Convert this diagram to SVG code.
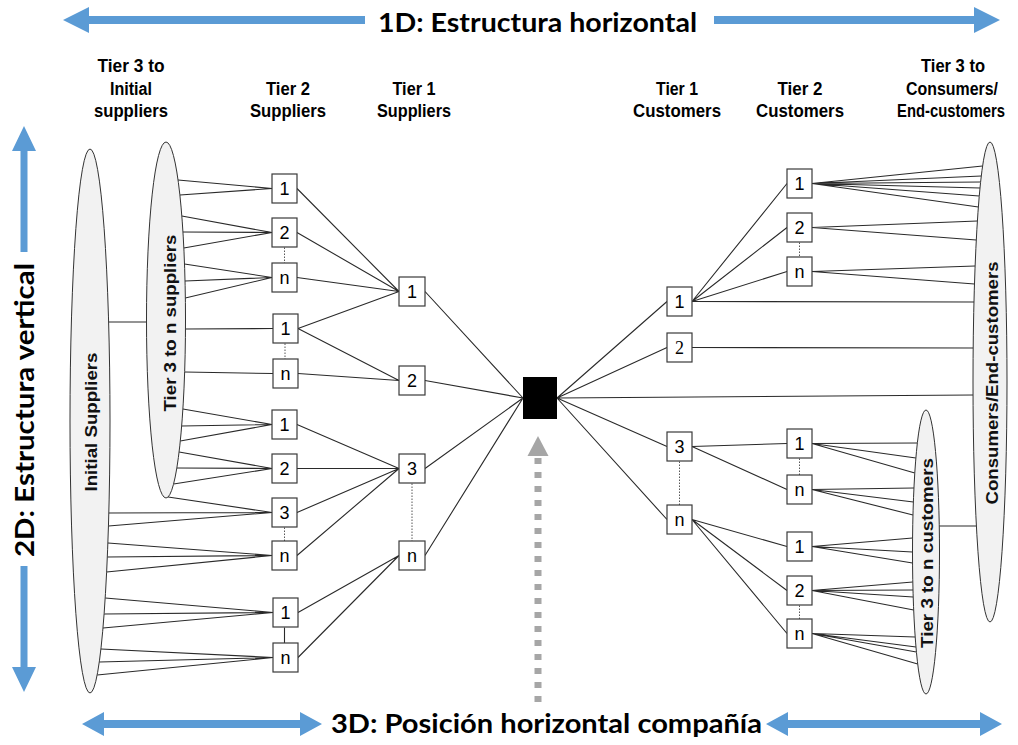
<svg xmlns="http://www.w3.org/2000/svg" width="1018" height="745" viewBox="0 0 1018 745">
<style>
.bx{fill:#fff;stroke:#3a3a3a;stroke-width:1.2}
.bt{font-family:"Liberation Sans",Arial,sans-serif;font-size:18px;fill:#000;text-anchor:middle}
.el{fill:#f2f2f2;stroke:#333;stroke-width:1}
.et{font-family:"Liberation Sans",Arial,sans-serif;font-size:16px;font-weight:bold;fill:#111;text-anchor:middle}
.hd{font-family:"Liberation Sans",Arial,sans-serif;font-size:18px;font-weight:bold;fill:#000;text-anchor:middle}
.big{font-family:Lato,"Liberation Sans",sans-serif;font-size:26px;font-weight:bold;fill:#000;text-anchor:middle}
.ln{stroke:#2a2a2a;stroke-width:1.1;fill:none}
.dt{stroke:#444;stroke-width:0.9;stroke-dasharray:1.5 1.5;fill:none}
.arr{fill:#5b9bd5}
</style>

<!-- blue dimension arrows -->
<g id="arrow-1d">
<polygon class="arr" points="63,20 89,7 89,16 365,16 365,24 89,24 89,33"/>
<polygon class="arr" points="1000,20 974,7 974,16 714,16 714,24 974,24 974,33"/>
<text class="big" x="537.5" y="32" textLength="319" lengthAdjust="spacingAndGlyphs">1D: Estructura horizontal</text>
</g>
<g id="arrow-2d">
<polygon class="arr" points="24,126 36,151 27.5,151 27.5,252 20.5,252 20.5,151 12,151"/>
<polygon class="arr" points="24,692 36,667 27.5,667 27.5,566 20.5,566 20.5,667 12,667"/>
<text class="big" transform="translate(34,410) rotate(-90)" x="0" y="0" textLength="294" lengthAdjust="spacingAndGlyphs">2D: Estructura vertical</text>
</g>
<g id="arrow-3d">
<polygon class="arr" points="82,724 104,712 104,720 300,720 300,712 322,724 300,736 300,728 104,728 104,736"/>
<polygon class="arr" points="766,724 788,712 788,720 980,720 980,712 1002,724 980,736 980,728 788,728 788,736"/>
<text class="big" x="546.5" y="733" textLength="431" lengthAdjust="spacingAndGlyphs">3D: Posición horizontal compañía</text>
</g>

<!-- column headers -->
<g id="headers">
<text class="hd" x="131" y="72" textLength="67" lengthAdjust="spacingAndGlyphs">Tier 3 to</text>
<text class="hd" x="131" y="95" textLength="42" lengthAdjust="spacingAndGlyphs">Initial</text>
<text class="hd" x="131" y="117" textLength="74" lengthAdjust="spacingAndGlyphs">suppliers</text>
<text class="hd" x="288" y="95" textLength="44" lengthAdjust="spacingAndGlyphs">Tier 2</text>
<text class="hd" x="288" y="117" textLength="76" lengthAdjust="spacingAndGlyphs">Suppliers</text>
<text class="hd" x="414" y="95" textLength="43" lengthAdjust="spacingAndGlyphs">Tier 1</text>
<text class="hd" x="414" y="117" textLength="74" lengthAdjust="spacingAndGlyphs">Suppliers</text>
<text class="hd" x="677" y="95" textLength="42" lengthAdjust="spacingAndGlyphs">Tier 1</text>
<text class="hd" x="677" y="117" textLength="88" lengthAdjust="spacingAndGlyphs">Customers</text>
<text class="hd" x="800" y="95" textLength="45" lengthAdjust="spacingAndGlyphs">Tier 2</text>
<text class="hd" x="800" y="117" textLength="88" lengthAdjust="spacingAndGlyphs">Customers</text>
<text class="hd" x="953" y="72" textLength="64" lengthAdjust="spacingAndGlyphs">Tier 3 to</text>
<text class="hd" x="952" y="95" textLength="92" lengthAdjust="spacingAndGlyphs">Consumers/</text>
<text class="hd" x="951" y="117" textLength="108" lengthAdjust="spacingAndGlyphs">End-customers</text>
</g>

<!-- connectors -->
<g id="connectors">
<path class="ln" d="M108.6,322H146.5 M939.3,526H976.4
M178,180L272,188.5 M179.9,195L272,188.5
M181.8,216L272,232.5 M182.9,232L272,232.5 M183.8,248L272,232.5
M184.5,264L272,277.5 M185,281L272,277.5 M185.3,298L272,277.5
M185.5,329L273,328.5
M184.6,372L273,373.5
M182.9,409L272,424.5 M181.7,426L272,424.5 M180.3,441L272,424.5
M179.1,452L272,468.5 M176.8,468L272,468.5 M173.6,484L272,468.5
M168.1,497L272,512.5 M108.8,513L272,512.5 M108.5,526L272,512.5
M107.9,543L272,555.5 M107.3,557L272,555.5 M106.6,572L272,555.5
M105.2,598L273,612.5 M104.1,614L273,612.5 M103,628L273,612.5
M100.9,649L273,657.5 M99.3,662L273,657.5 M97.2,675L273,657.5
M297,188.5L399,291.5 M297,232.5L399,291.5 M297,277.5L399,291.5
M298,328.5L399,291.5 M298,328.5L399,380.5 M298,373.5L399,380.5
M297,424.5L399,468.5 M297,468.5L399,468.5 M297,512.5L399,468.5 M297,555.5L399,468.5
M298,612.5L399,555.5 M298,657.5L399,555.5
M425,291.5L523,398 M425,380.5L523,398 M425,468.5L523,398 M425,555.5L523,398
M557,398L667,301.5 M557,398L667,347.5 M557,398L667,446.5 M557,398L667,519.5 M557,398L973,395
M692,301.5L787,183.5 M692,301.5L787,227.5 M692,301.5L787,271.5 M692,301.5L974,302
M692,347.5L973.1,348
M692,446.5L787,443.5 M692,446.5L787,489.5
M692,519.5L787,546.5 M692,519.5L787,590.5 M692,519.5L787,633.5
M812,183.5L982.6,166 M812,183.5L981.3,176 M812,183.5L980.6,182 M812,183.5L980,188 M812,183.5L979.3,196 M812,183.5L978.4,207
M812,227.5L977.4,221 M812,227.5L976.3,240
M812,271.5L975.1,266 M812,271.5L974.5,284
M812,443.5L917.3,443 M812,443.5L915.9,458 M812,443.5L914.8,473
M812,489.5L914,488 M812,489.5L913.4,502 M812,489.5L913,515
M812,546.5L912.6,538 M812,546.5L912.5,552 M812,546.5L912.5,563
M812,590.5L912.8,582 M812,590.5L913,590 M812,590.5L913.2,597 M812,590.5L913.7,610
M812,633.5L915.2,637 M812,633.5L916,647 M812,633.5L916.4,652 M812,633.5L917.7,664
M284.5,627.5V643"/>
<path class="dt" d="M284.5,247.5V263 M285,343.5V359 M284.5,527.5V541 M412,483.5V541 M679.5,461.5V505 M799.5,242.5V257 M799.5,458.5V475 M799.5,605.5V619"/>
<g id="company-arrow">
<line x1="538" y1="458" x2="538" y2="704" stroke="#a6a6a6" stroke-width="7" stroke-dasharray="6 8"/>
<polygon points="538,436 548.5,456 527.5,456" fill="#a6a6a6"/>
</g>
</g>

<!-- ellipses -->
<g id="initial-suppliers">
<ellipse class="el" cx="90" cy="421" rx="20" ry="272"/>
<text class="et" transform="translate(97,422) rotate(-90)" textLength="139" lengthAdjust="spacingAndGlyphs">Initial Suppliers</text>
</g>
<g id="tier3-suppliers">
<ellipse class="el" cx="166" cy="320" rx="19.5" ry="178"/>
<text class="et" transform="translate(176,323) rotate(-90)" textLength="177" lengthAdjust="spacingAndGlyphs">Tier 3 to n suppliers</text>
</g>
<g id="consumers">
<ellipse class="el" cx="990" cy="382" rx="17" ry="240"/>
<text class="et" transform="translate(998,383) rotate(-90)" textLength="243" lengthAdjust="spacingAndGlyphs">Consumers/End-customers</text>
</g>
<g id="tier3-customers">
<ellipse class="el" cx="926" cy="552" rx="13.5" ry="142"/>
<text class="et" transform="translate(933,553) rotate(-90)" textLength="190" lengthAdjust="spacingAndGlyphs">Tier 3 to n customers</text>
</g>

<!-- tier 2 suppliers -->
<g id="s2-1a"><rect class="bx" x="272" y="174" width="25" height="29"/><text class="bt" x="284.5" y="195">1</text></g>
<g id="s2-2a"><rect class="bx" x="272" y="218" width="25" height="29"/><text class="bt" x="284.5" y="239">2</text></g>
<g id="s2-na"><rect class="bx" x="272" y="263" width="25" height="29"/><text class="bt" x="284.5" y="284">n</text></g>
<g id="s2-1b"><rect class="bx" x="273" y="314" width="25" height="29"/><text class="bt" x="285.5" y="335">1</text></g>
<g id="s2-nb"><rect class="bx" x="273" y="359" width="25" height="29"/><text class="bt" x="285.5" y="380">n</text></g>
<g id="s2-1c"><rect class="bx" x="272" y="410" width="25" height="29"/><text class="bt" x="284.5" y="431">1</text></g>
<g id="s2-2c"><rect class="bx" x="272" y="454" width="25" height="29"/><text class="bt" x="284.5" y="475">2</text></g>
<g id="s2-3c"><rect class="bx" x="272" y="498" width="25" height="29"/><text class="bt" x="284.5" y="519">3</text></g>
<g id="s2-nc"><rect class="bx" x="272" y="541" width="25" height="29"/><text class="bt" x="284.5" y="562">n</text></g>
<g id="s2-1d"><rect class="bx" x="273" y="598" width="25" height="29"/><text class="bt" x="285.5" y="619">1</text></g>
<g id="s2-nd"><rect class="bx" x="273" y="643" width="25" height="29"/><text class="bt" x="285.5" y="664">n</text></g>

<!-- tier 1 suppliers -->
<g id="s1-1"><rect class="bx" x="399" y="277" width="26" height="29"/><text class="bt" x="412" y="298">1</text></g>
<g id="s1-2"><rect class="bx" x="399" y="366" width="26" height="29"/><text class="bt" x="412" y="387">2</text></g>
<g id="s1-3"><rect class="bx" x="399" y="454" width="26" height="29"/><text class="bt" x="412" y="475">3</text></g>
<g id="s1-n"><rect class="bx" x="399" y="541" width="26" height="29"/><text class="bt" x="412" y="562">n</text></g>

<!-- focal company -->
<g id="company"><rect x="523" y="377" width="34" height="42" fill="#000"/></g>

<!-- tier 1 customers -->
<g id="c1-1"><rect class="bx" x="667" y="287" width="25" height="29"/><text class="bt" x="679.5" y="308">1</text></g>
<g id="c1-2"><rect class="bx" x="667" y="333" width="25" height="29"/><text class="bt" x="679.5" y="354" style="font-family:'Liberation Serif',serif">2</text></g>
<g id="c1-3"><rect class="bx" x="667" y="432" width="25" height="29"/><text class="bt" x="679.5" y="453">3</text></g>
<g id="c1-n"><rect class="bx" x="667" y="505" width="25" height="29"/><text class="bt" x="679.5" y="526">n</text></g>

<!-- tier 2 customers -->
<g id="c2-1a"><rect class="bx" x="787" y="169" width="25" height="29"/><text class="bt" x="799.5" y="190">1</text></g>
<g id="c2-2a"><rect class="bx" x="787" y="213" width="25" height="29"/><text class="bt" x="799.5" y="234">2</text></g>
<g id="c2-na"><rect class="bx" x="787" y="257" width="25" height="29"/><text class="bt" x="799.5" y="278">n</text></g>
<g id="c2-1b"><rect class="bx" x="787" y="429" width="25" height="29"/><text class="bt" x="799.5" y="450">1</text></g>
<g id="c2-nb"><rect class="bx" x="787" y="475" width="25" height="29"/><text class="bt" x="799.5" y="496">n</text></g>
<g id="c2-1c"><rect class="bx" x="787" y="532" width="25" height="29"/><text class="bt" x="799.5" y="553">1</text></g>
<g id="c2-2c"><rect class="bx" x="787" y="576" width="25" height="29"/><text class="bt" x="799.5" y="597">2</text></g>
<g id="c2-nc"><rect class="bx" x="787" y="619" width="25" height="29"/><text class="bt" x="799.5" y="640">n</text></g>
</svg>
